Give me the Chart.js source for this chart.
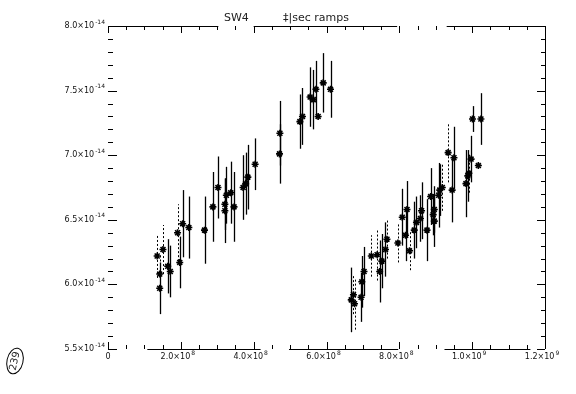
<!DOCTYPE html>
<html>
<head>
<meta charset="utf-8">
<script src="https://cdn.jsdelivr.net/npm/chart.js@4/dist/chart.umd.min.js"></script>
<style>
  html, body { margin: 0; padding: 0; background: #fff; }
  #wrap { width: 576px; height: 394px; }
</style>
</head>
<body>
<div id="wrap"><canvas id="rampChart" width="576" height="394"></canvas></div>
<script>
// x in units of 1e8, y in units of 1e-14
const solidX = [1.42, 1.64, 1.71, 1.97, 2.05, 2.22, 2.65, 2.88, 3.02, 3.21, 3.21, 3.25, 3.37, 3.46,
  3.71, 3.78, 3.84, 4.04, 4.71, 4.72, 5.27, 5.34, 5.55, 5.64, 5.71, 5.77, 5.91, 6.11,
  6.68, 6.95, 6.97, 7.03, 7.46, 7.52, 7.62, 8.08, 8.17, 8.21, 8.41, 8.47, 8.58, 8.61,
  8.76, 8.86, 8.93, 8.96, 8.96, 9.08, 9.11, 9.45, 9.50, 9.83, 9.88, 9.97, 10.01, 10.17, 10.24];
const solidY = [5.97, 6.14, 6.10, 6.17, 6.47, 6.44, 6.42, 6.60, 6.75, 6.57, 6.62, 6.69, 6.71, 6.60,
  6.75, 6.78, 6.83, 6.93, 7.01, 7.17, 7.26, 7.30, 7.45, 7.43, 7.51, 7.30, 7.56, 7.51,
  5.88, 5.90, 6.02, 6.10, 6.10, 6.18, 6.27, 6.52, 6.38, 6.58, 6.42, 6.48, 6.51, 6.57,
  6.42, 6.68, 6.54, 6.58, 6.49, 6.69, 6.73, 6.73, 6.98, 6.78, 6.84, 6.97, 7.28, 6.92, 7.28];
const solidErr = [0.20, 0.21, 0.20, 0.20, 0.26, 0.24, 0.26, 0.27, 0.24, 0.25, 0.20, 0.22, 0.24, 0.27,
  0.25, 0.24, 0.25, 0.20, 0.23, 0.25, 0.21, 0.22, 0.23, 0.23, 0.22, 0, 0.23, 0.22,
  0.25, 0.19, 0.20, 0.19, 0.24, 0.21, 0.21, 0.22, 0.20, 0.22, 0.22, 0.20, 0.18, 0.22,
  0.24, 0.22, 0.16, 0.18, 0.20, 0.25, 0.20, 0.25, 0.24, 0.26, 0.20, 0.18, 0.10, 0, 0.20];

const dottedX = [1.35, 1.42, 1.51, 1.91, 6.74, 6.77, 7.23, 7.39, 7.66, 7.96, 8.28, 9.18, 9.34, 9.91];
const dottedY = [6.22, 6.08, 6.27, 6.40, 5.92, 5.85, 6.22, 6.23, 6.35, 6.32, 6.26, 6.75, 7.02, 6.86];
const dottedErr = [0.17, 0.15, 0.19, 0.22, 0.15, 0.20, 0.16, 0.20, 0.15, 0.15, 0.15, 0.18, 0.23, 0.15];

// tick labels: mantissa part and exponent part
const xTicks = [0, 2, 4, 6, 8, 10, 12];
const xTickBase = ["0", "2.0×10", "4.0×10", "6.0×10", "8.0×10", "1.0×10", "1.2×10"];
const xTickExp = ["", "8", "8", "8", "8", "9", "9"];
const yTicks = [5.5, 6, 6.5, 7, 7.5, 8];
const yTickBase = ["5.5×10", "6.0×10", "6.5×10", "7.0×10", "7.5×10", "8.0×10"];
const yTickExp = ["-14", "-14", "-14", "-14", "-14", "-14"];

// pieces of the frame that survived the scan (x units)
const bottomSegments = [[1.08, 4.19], [4.97, 7.97], [9.24, 11.6]];
const topSegments = [[0, 3.03], [4.0, 7.94], [9.3, 12]];

const toPoints = (xs, ys) => xs.map((x, i) => ({ x, y: ys[i] }));
const errorSets = [solidErr, dottedErr];

const BASE_FONT = "8px 'DejaVu Sans'";
const EXP_FONT = "6px 'DejaVu Sans'";

function labelWidth(ctx, base, exp) {
  ctx.font = BASE_FONT;
  const w1 = ctx.measureText(base).width;
  ctx.font = EXP_FONT;
  const w2 = exp ? ctx.measureText(exp).width + 1 : 0;
  return w1 + w2;
}

function drawLabel(ctx, base, exp, left, midY) {
  ctx.textBaseline = "middle";
  ctx.textAlign = "left";
  ctx.font = BASE_FONT;
  ctx.fillText(base, left, midY);
  if (exp) {
    const w1 = ctx.measureText(base).width;
    ctx.font = EXP_FONT;
    ctx.fillText(exp, left + w1 + 1, midY - 4);
  }
}

const errorBars = {
  id: "errorBars",
  beforeDatasetsDraw(chart) {
    const { ctx, scales: { y } } = chart;
    chart.data.datasets.forEach((ds, di) => {
      const meta = chart.getDatasetMeta(di);
      const errs = errorSets[di];
      ctx.save();
      ctx.strokeStyle = "#000";
      ctx.lineWidth = di === 0 ? 1.3 : 1;
      ctx.setLineDash(di === 0 ? [] : [2, 2]);
      meta.data.forEach((pt, i) => {
        if (!errs[i]) return;
        const v = ds.data[i].y;
        ctx.beginPath();
        ctx.moveTo(Math.round(pt.x) + 0.5, y.getPixelForValue(v - errs[i]));
        ctx.lineTo(Math.round(pt.x) + 0.5, y.getPixelForValue(v + errs[i]));
        ctx.stroke();
      });
      ctx.restore();
    });
  }
};

const frame = {
  id: "frame",
  afterDraw(chart) {
    const { ctx, chartArea: a, scales: { x, y } } = chart;
    ctx.save();
    ctx.strokeStyle = "#000";
    ctx.lineWidth = 1;
    ctx.beginPath();
    bottomSegments.forEach(([s, e]) => {
      ctx.moveTo(x.getPixelForValue(s), a.bottom + 0.5);
      ctx.lineTo(x.getPixelForValue(e), a.bottom + 0.5);
    });
    topSegments.forEach(([s, e]) => {
      ctx.moveTo(x.getPixelForValue(s), a.top + 0.5);
      ctx.lineTo(x.getPixelForValue(e), a.top + 0.5);
    });
    ctx.moveTo(a.right + 0.5, a.top);
    ctx.lineTo(a.right + 0.5, a.bottom);
    // x ticks every 0.5e8
    for (let i = 0; i <= 24; i++) {
      const px = Math.round(x.getPixelForValue(i / 2)) + 0.5;
      const major = i % 4 === 0;
      ctx.moveTo(px, a.bottom);
      ctx.lineTo(px, a.bottom - (major ? 7 : 4));
      ctx.moveTo(px, a.top);
      ctx.lineTo(px, a.top + (major ? 7 : 4));
    }
    // y ticks every 0.1e-14
    for (let i = 0; i <= 25; i++) {
      const py = Math.round(y.getPixelForValue(5.5 + i / 10)) + 0.5;
      const major = i % 5 === 0;
      ctx.moveTo(a.left, py);
      ctx.lineTo(a.left + (major ? 9 : 5), py);
      ctx.moveTo(a.right, py);
      ctx.lineTo(a.right - (major ? 8 : 4), py);
    }
    ctx.stroke();

    // tick labels
    ctx.fillStyle = "#111";
    xTicks.forEach((v, i) => {
      const w = labelWidth(ctx, xTickBase[i], xTickExp[i]);
      drawLabel(ctx, xTickBase[i], xTickExp[i], x.getPixelForValue(v) - w / 2 - (i ? 3 : 0), a.bottom + 8);
    });
    yTicks.forEach((v, i) => {
      const w = labelWidth(ctx, yTickBase[i], yTickExp[i]);
      drawLabel(ctx, yTickBase[i], yTickExp[i], a.left - 3 - w, y.getPixelForValue(v));
    });

    // handwritten title
    ctx.fillStyle = "#222";
    ctx.font = "11px 'DejaVu Sans'";
    ctx.textAlign = "left";
    ctx.textBaseline = "alphabetic";
    ctx.fillText("SW4", 224, 21);
    ctx.fillText("‡|sec ramps", 283, 21);

    // circled page number in the margin
    ctx.save();
    ctx.translate(15, 361);
    ctx.rotate(-1.35);
    ctx.beginPath();
    ctx.ellipse(0, 0, 13, 8, 0, 0, Math.PI * 2);
    ctx.stroke();
    ctx.font = "10px 'DejaVu Sans'";
    ctx.textAlign = "center";
    ctx.textBaseline = "middle";
    ctx.fillText("239", 0, 0);
    ctx.restore();
    ctx.restore();
  }
};

const markerStyle = {
  pointStyle: "star",
  pointRadius: 3.5,
  pointBorderWidth: 1.6,
  borderColor: "#000",
  backgroundColor: "#000",
  pointHoverRadius: 3.5
};

new Chart(document.getElementById("rampChart"), {
  type: "scatter",
  data: {
    datasets: [
      { label: "solid", data: toPoints(solidX, solidY), ...markerStyle },
      { label: "dotted", data: toPoints(dottedX, dottedY), ...markerStyle }
    ]
  },
  options: {
    responsive: false,
    animation: false,
    events: [],
    layout: { padding: { top: 26, right: 31, left: 0, bottom: 0 } },
    plugins: { legend: { display: false }, tooltip: { enabled: false } },
    scales: {
      x: {
        type: "linear",
        min: 0,
        max: 12,
        grid: { display: false },
        border: { display: false },
        afterFit: (s) => { s.height = 45; },
        ticks: { display: false, stepSize: 2 }
      },
      y: {
        type: "linear",
        min: 5.5,
        max: 8,
        grid: { display: false },
        border: { display: false },
        afterFit: (s) => { s.width = 108; },
        ticks: { display: false, stepSize: 0.5 }
      }
    }
  },
  plugins: [errorBars, frame]
});
</script>
</body>
</html>
